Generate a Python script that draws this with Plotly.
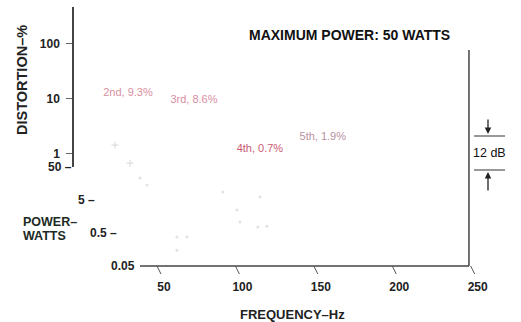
import math
import plotly.graph_objects as go

# ---------------- data ----------------
freq_ticks = [50, 100, 150, 200, 250]
dist_ticks = [1, 10, 100]
power_ticks = [50, 5, 0.5, 0.05]
power_tick_labels = ["50", "5", "0.5", "0.05"]

harm_labels = ["2nd, 9.3%", "3rd, 8.6%", "4th, 0.7%", "5th, 1.9%", "2%"]
harm_freq = [31.5, 73.6, 115.6, 155.7, 123.9]
harm_dist = [12.6, 9.4, 1.21, 2.0, 0.36]
harm_colors = ["#d88ea2", "#d88ea2", "#cc5a72", "#b98f9f", "#e08a98"]

faint_dist_freq = [23.2, 32.8]
faint_dist_val = [1.43, 0.67]

faint_pow_freq = [39.2, 43.6, 62.7, 69.1, 62.7, 92.0, 101.0, 102.9, 114.3, 115.6, 120.1]
faint_pow_val = [23.2, 14.3, 0.38, 0.38, 0.15, 8.7, 2.5, 1.08, 0.76, 6.2, 0.80]

# ---------------- style / layout constants ----------------
FONT = "Liberation Sans, Arial, Helvetica, sans-serif"
INK = "#222222"
W, H = 521, 322
L, R, T, B = 74, 50, 5, 56
PW, PH = W - L - R, H - T - B
X_RANGE = [-2.9, 250.2]
PX_PER_HZ = PW / (X_RANGE[1] - X_RANGE[0])


def hz_to_paper(h):
    return (h - X_RANGE[0]) / (X_RANGE[1] - X_RANGE[0])


def px_to_paper_x(px):
    return (px - L) / PW


def px_to_paper_y(py):
    return (H - B - py) / PH


fig = go.Figure()

# faint remnants of the curves
fig.add_trace(go.Scatter(x=faint_dist_freq, y=faint_dist_val, mode="markers",
                         marker=dict(color="#dcdcdc", size=5, symbol="cross-thin",
                                     line=dict(color="#d8d8d8", width=1)),
                         xaxis="x", yaxis="y", hoverinfo="skip", showlegend=False))
fig.add_trace(go.Scatter(x=faint_pow_freq, y=faint_pow_val, mode="markers",
                         marker=dict(color="#e2e2e2", size=3),
                         xaxis="x", yaxis="y2", hoverinfo="skip", showlegend=False))

# harmonic labels
fig.add_trace(go.Scatter(x=harm_freq, y=harm_dist, mode="text", text=harm_labels,
                         textfont=dict(family=FONT, size=11, color=harm_colors),
                         cliponaxis=False, xaxis="x", yaxis="y",
                         hoverinfo="skip", showlegend=False))

LINE = "#444444"
shapes = []
# bottom frequency axis line
shapes.append(dict(type="line", xref="paper", yref="paper",
                   x0=hz_to_paper(39.2), x1=hz_to_paper(248.9), y0=0, y1=0,
                   line=dict(color=LINE, width=1.5)))
# right spine
shapes.append(dict(type="line", xref="paper", yref="paper",
                   x0=hz_to_paper(248.9), x1=hz_to_paper(248.9), y0=0,
                   y1=px_to_paper_y(50), line=dict(color=LINE, width=1.5)))
# slanted frequency ticks
for t in freq_ticks:
    shapes.append(dict(type="line", xref="paper", yref="paper",
                       x0=hz_to_paper(t), x1=hz_to_paper(t + 4 / PX_PER_HZ),
                       y0=0, y1=-8 / PH, line=dict(color="#555", width=1)))
# 12 dB bracket lines
for py in (136, 170):
    shapes.append(dict(type="line", xref="paper", yref="paper",
                       x0=px_to_paper_x(474), x1=px_to_paper_x(505),
                       y0=px_to_paper_y(py), y1=px_to_paper_y(py),
                       line=dict(color="#333", width=1)))

annotations = []
# slanted power-axis tick labels
for i, (v, lab) in enumerate(zip(power_ticks, power_tick_labels)):
    dec = math.log10(power_ticks[0]) - math.log10(v)
    x_end = X_RANGE[0] + 14.5 * dec
    last = i == len(power_ticks) - 1
    txt = lab if last else lab + " –"
    annotations.append(dict(x=x_end, y=math.log10(v), xref="x", yref="y2",
                            text=txt, showarrow=False, xanchor="right", yanchor="middle",
                            xshift=-5 if last else 0,
                            font=dict(family=FONT, size=12, color=INK, weight="bold")))

annotations += [
    dict(text="MAXIMUM POWER: 50 WATTS", xref="paper", yref="paper",
         x=px_to_paper_x(349), y=px_to_paper_y(35), xanchor="center", yanchor="middle",
         showarrow=False, font=dict(family=FONT, size=14, color="#111", weight="bold")),
    dict(text="DISTORTION–%", xref="paper", yref="paper", textangle=-90,
         x=px_to_paper_x(22), y=px_to_paper_y(80), xanchor="center", yanchor="middle",
         showarrow=False, font=dict(family=FONT, size=14.5, color=INK, weight="bold")),
    dict(text="POWER–", xref="paper", yref="paper",
         x=px_to_paper_x(21), y=px_to_paper_y(221.5), xanchor="left", yanchor="middle",
         showarrow=False, font=dict(family=FONT, size=12.5, color="#1c2a24", weight="bold")),
    dict(text="WATTS", xref="paper", yref="paper",
         x=px_to_paper_x(21), y=px_to_paper_y(236), xanchor="left", yanchor="middle",
         showarrow=False, font=dict(family=FONT, size=12.5, color="#1c2a24", weight="bold")),
    dict(text="FREQUENCY–Hz", xref="paper", yref="paper",
         x=px_to_paper_x(292), y=px_to_paper_y(314), xanchor="center", yanchor="middle",
         showarrow=False, font=dict(family=FONT, size=13, color=INK, weight="bold")),
    dict(text="12 dB", xref="paper", yref="paper",
         x=px_to_paper_x(489), y=px_to_paper_y(153), xanchor="center", yanchor="middle",
         showarrow=False, font=dict(family=FONT, size=12.5, color="#111")),
    dict(text="", xref="paper", yref="paper", x=px_to_paper_x(488), y=px_to_paper_y(134),
         ax=0, ay=-16, showarrow=True, arrowhead=2, arrowsize=1, arrowwidth=1.3,
         arrowcolor="#222"),
    dict(text="", xref="paper", yref="paper", x=px_to_paper_x(488), y=px_to_paper_y(172),
         ax=0, ay=20, showarrow=True, arrowhead=2, arrowsize=1, arrowwidth=1.3,
         arrowcolor="#222"),
]

fig.update_layout(
    width=W, height=H,
    margin=dict(l=L, r=R, t=T, b=B, autoexpand=False),
    paper_bgcolor="white", plot_bgcolor="white",
    showlegend=False,
    xaxis=dict(domain=[0, 1], range=X_RANGE, anchor="y2",
               showline=False, showgrid=False, zeroline=False,
               tickvals=freq_ticks, ticks="", ticklabelshift=7, ticklabelstandoff=12,
               tickfont=dict(family=FONT, size=12, color=INK, weight="bold")),
    yaxis=dict(type="log", domain=[0.379, 0.992], range=[-0.245, 2.664], anchor="x",
               showline=True, linecolor=LINE, linewidth=1.5, mirror=False,
               showgrid=False, zeroline=False,
               tickvals=dist_ticks, ticktext=[str(v) for v in dist_ticks],
               ticks="outside", ticklen=6, tickcolor="#666", ticklabelstandoff=4,
               tickfont=dict(family=FONT, size=12, color=INK, weight="bold")),
    yaxis2=dict(type="log", domain=[0, 0.379], range=[math.log10(0.05), math.log10(50)],
                anchor="x", showline=False, showgrid=False, zeroline=False,
                showticklabels=False, ticks=""),
    shapes=shapes,
    annotations=annotations,
)

fig.write_html("out.html", config={"displayModeBar": False},
               post_script="document.body.style.margin='0px';")
